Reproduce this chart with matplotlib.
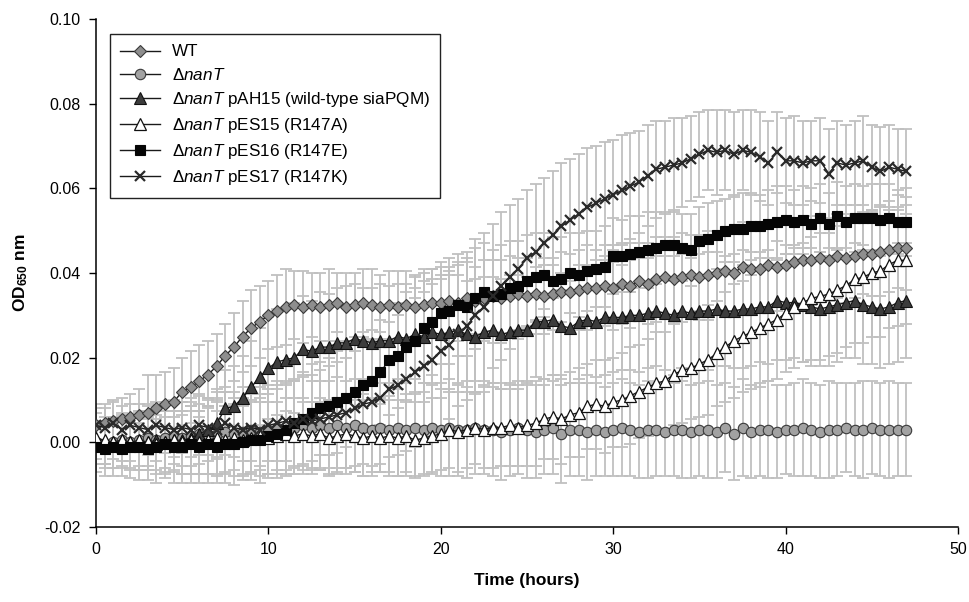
import numpy as np
import matplotlib
matplotlib.use("Agg")
import matplotlib.pyplot as plt

plt.rcParams['font.family'] = ['Liberation Sans', 'DejaVu Sans']
plt.rcParams['mathtext.fontset'] = 'custom'
plt.rcParams['mathtext.rm'] = 'Liberation Sans'
plt.rcParams['mathtext.it'] = 'Liberation Sans:italic'
plt.rcParams['mathtext.bf'] = 'Liberation Sans:bold'
plt.rcParams['axes.unicode_minus'] = False

# sampling times (hours), every 30 min
hours = np.arange(0, 47.5, 0.5)

wt = [0.0040, 0.0045, 0.0050, 0.0055, 0.0060, 0.0065, 0.0070, 0.0080, 0.0090, 0.0095,
      0.0120, 0.0130, 0.0145, 0.0160, 0.0180, 0.0205, 0.0225, 0.0250, 0.0270, 0.0285,
      0.0300, 0.0310, 0.0320, 0.0325, 0.0320, 0.0325, 0.0320, 0.0325, 0.0330, 0.0320,
      0.0325, 0.0330, 0.0325, 0.0320, 0.0325, 0.0320, 0.0325, 0.0320, 0.0325, 0.0330,
      0.0330, 0.0335, 0.0330, 0.0340, 0.0335, 0.0340, 0.0345, 0.0340, 0.0345, 0.0350,
      0.0345, 0.0350, 0.0345, 0.0350, 0.0355, 0.0355, 0.0360, 0.0365, 0.0365, 0.0370,
      0.0365, 0.0375, 0.0370, 0.0380, 0.0375, 0.0385, 0.0390, 0.0385, 0.0390, 0.0395,
      0.0390, 0.0395, 0.0400, 0.0405, 0.0400, 0.0415, 0.0410, 0.0410, 0.0420, 0.0415,
      0.0420, 0.0425, 0.0430, 0.0430, 0.0435, 0.0430, 0.0440, 0.0435, 0.0440, 0.0445,
      0.0445, 0.0450, 0.0455, 0.0460, 0.0460]
wt_err = [0.0040, 0.0045, 0.0050, 0.0050, 0.0055, 0.0060, 0.0090, 0.0080, 0.0075, 0.0080,
          0.0080, 0.0085, 0.0085, 0.0080, 0.0075, 0.0075, 0.0080, 0.0085, 0.0090, 0.0085,
          0.0080, 0.0085, 0.0090, 0.0080, 0.0085, 0.0075, 0.0080, 0.0085, 0.0070, 0.0080,
          0.0075, 0.0080, 0.0085, 0.0075, 0.0080, 0.0085, 0.0080, 0.0075, 0.0085, 0.0080,
          0.0085, 0.0080, 0.0090, 0.0085, 0.0080, 0.0090, 0.0085, 0.0090, 0.0095, 0.0085,
          0.0090, 0.0095, 0.0090, 0.0085, 0.0095, 0.0090, 0.0095, 0.0100, 0.0090, 0.0095,
          0.0100, 0.0095, 0.0100, 0.0090, 0.0095, 0.0100, 0.0095, 0.0100, 0.0105, 0.0095,
          0.0100, 0.0105, 0.0100, 0.0095, 0.0100, 0.0105, 0.0100, 0.0095, 0.0100, 0.0105,
          0.0100, 0.0095, 0.0100, 0.0105, 0.0100, 0.0095, 0.0100, 0.0105, 0.0100, 0.0095,
          0.0100, 0.0105, 0.0100, 0.0095, 0.0100]

nant = [0.0000, -0.0005, 0.0000, 0.0005, 0.0000, 0.0005, 0.0010, 0.0005, 0.0010, 0.0015,
        0.0010, 0.0015, 0.0020, 0.0015, 0.0020, 0.0025, 0.0020, 0.0025, 0.0030, 0.0025,
        0.0030, 0.0035, 0.0030, 0.0035, 0.0040, 0.0035, 0.0040, 0.0035, 0.0040, 0.0035,
        0.0040, 0.0035, 0.0030, 0.0035, 0.0030, 0.0035, 0.0030, 0.0035, 0.0030, 0.0035,
        0.0030, 0.0035, 0.0030, 0.0030, 0.0035, 0.0030, 0.0030, 0.0025, 0.0030, 0.0035,
        0.0030, 0.0025, 0.0030, 0.0035, 0.0020, 0.0030, 0.0030, 0.0025, 0.0030, 0.0025,
        0.0030, 0.0035, 0.0030, 0.0025, 0.0030, 0.0030, 0.0025, 0.0030, 0.0030, 0.0025,
        0.0030, 0.0030, 0.0025, 0.0035, 0.0020, 0.0035, 0.0025, 0.0030, 0.0030, 0.0025,
        0.0030, 0.0030, 0.0035, 0.0030, 0.0025, 0.0030, 0.0030, 0.0035, 0.0030, 0.0030,
        0.0035, 0.0030, 0.0030, 0.0030, 0.0030]
nant_err = [0.0050, 0.0055, 0.0060, 0.0060, 0.0065, 0.0070, 0.0075, 0.0070, 0.0080, 0.0085,
            0.0085, 0.0090, 0.0095, 0.0090, 0.0100, 0.0095, 0.0100, 0.0105, 0.0100, 0.0105,
            0.0105, 0.0110, 0.0105, 0.0110, 0.0115, 0.0110, 0.0105, 0.0110, 0.0115, 0.0110,
            0.0110, 0.0115, 0.0110, 0.0105, 0.0110, 0.0115, 0.0110, 0.0115, 0.0110, 0.0105,
            0.0110, 0.0115, 0.0110, 0.0115, 0.0110, 0.0105, 0.0110, 0.0115, 0.0110, 0.0110,
            0.0115, 0.0110, 0.0105, 0.0110, 0.0115, 0.0110, 0.0110, 0.0115, 0.0110, 0.0105,
            0.0110, 0.0115, 0.0110, 0.0110, 0.0115, 0.0110, 0.0105, 0.0110, 0.0115, 0.0110,
            0.0110, 0.0115, 0.0110, 0.0105, 0.0110, 0.0115, 0.0110, 0.0110, 0.0115, 0.0110,
            0.0105, 0.0110, 0.0115, 0.0110, 0.0110, 0.0115, 0.0110, 0.0105, 0.0110, 0.0115,
            0.0110, 0.0110, 0.0115, 0.0110, 0.0110]

pah15 = [0.0000, -0.0005, 0.0000, 0.0005, 0.0000, -0.0005, 0.0000, 0.0005, 0.0000, 0.0005,
         0.0005, 0.0010, 0.0020, 0.0030, 0.0045, 0.0080, 0.0085, 0.0105, 0.0130, 0.0155,
         0.0175, 0.0190, 0.0195, 0.0200, 0.0220, 0.0215, 0.0225, 0.0225, 0.0235, 0.0235,
         0.0245, 0.0240, 0.0235, 0.0240, 0.0240, 0.0250, 0.0245, 0.0255, 0.0250, 0.0260,
         0.0255, 0.0260, 0.0265, 0.0255, 0.0250, 0.0260, 0.0265, 0.0255, 0.0260, 0.0265,
         0.0265, 0.0285, 0.0285, 0.0290, 0.0275, 0.0270, 0.0285, 0.0290, 0.0285, 0.0295,
         0.0295, 0.0295, 0.0300, 0.0300, 0.0305, 0.0310, 0.0305, 0.0300, 0.0310, 0.0305,
         0.0310, 0.0310, 0.0315, 0.0310, 0.0310, 0.0315, 0.0315, 0.0320, 0.0320, 0.0335,
         0.0330, 0.0330, 0.0325, 0.0320, 0.0315, 0.0320, 0.0325, 0.0330, 0.0335, 0.0325,
         0.0320, 0.0315, 0.0320, 0.0330, 0.0335]
pah15_err = [0.0040, 0.0045, 0.0040, 0.0050, 0.0045, 0.0050, 0.0055, 0.0050, 0.0060, 0.0055,
             0.0060, 0.0065, 0.0070, 0.0075, 0.0080, 0.0090, 0.0095, 0.0100, 0.0110, 0.0115,
             0.0120, 0.0125, 0.0120, 0.0130, 0.0125, 0.0120, 0.0130, 0.0125, 0.0130, 0.0135,
             0.0130, 0.0125, 0.0130, 0.0135, 0.0130, 0.0125, 0.0130, 0.0135, 0.0130, 0.0125,
             0.0130, 0.0135, 0.0130, 0.0125, 0.0135, 0.0130, 0.0125, 0.0130, 0.0135, 0.0130,
             0.0125, 0.0130, 0.0135, 0.0130, 0.0125, 0.0130, 0.0135, 0.0130, 0.0130, 0.0135,
             0.0130, 0.0125, 0.0130, 0.0135, 0.0130, 0.0130, 0.0135, 0.0140, 0.0135, 0.0130,
             0.0135, 0.0140, 0.0135, 0.0130, 0.0135, 0.0140, 0.0135, 0.0130, 0.0135, 0.0140,
             0.0135, 0.0130, 0.0135, 0.0140, 0.0135, 0.0140, 0.0135, 0.0130, 0.0135, 0.0140,
             0.0135, 0.0140, 0.0135, 0.0140, 0.0135]

pes15 = [0.0010, 0.0005, 0.0000, 0.0005, 0.0000, 0.0005, 0.0000, -0.0005, 0.0000, 0.0005,
         0.0000, 0.0005, 0.0000, 0.0005, 0.0010, 0.0005, 0.0010, 0.0005, 0.0010, 0.0015,
         0.0010, 0.0015, 0.0020, 0.0015, 0.0020, 0.0015, 0.0020, 0.0010, 0.0015, 0.0020,
         0.0015, 0.0010, 0.0015, 0.0010, 0.0015, 0.0010, 0.0015, 0.0005, 0.0010, 0.0015,
         0.0020, 0.0030, 0.0025, 0.0030, 0.0035, 0.0030, 0.0035, 0.0035, 0.0040, 0.0035,
         0.0040, 0.0045, 0.0055, 0.0060, 0.0055, 0.0065, 0.0070, 0.0085, 0.0090, 0.0085,
         0.0095, 0.0100, 0.0110, 0.0120, 0.0130, 0.0140, 0.0145, 0.0160, 0.0170, 0.0175,
         0.0185, 0.0195, 0.0210, 0.0225, 0.0240, 0.0250, 0.0260, 0.0270, 0.0280, 0.0290,
         0.0305, 0.0320, 0.0330, 0.0340, 0.0345, 0.0350, 0.0360, 0.0370, 0.0385, 0.0390,
         0.0400, 0.0405, 0.0420, 0.0430, 0.0430]
pes15_err = [0.0060, 0.0055, 0.0060, 0.0065, 0.0060, 0.0070, 0.0065, 0.0070, 0.0075, 0.0070,
             0.0075, 0.0080, 0.0075, 0.0080, 0.0085, 0.0080, 0.0075, 0.0080, 0.0085, 0.0080,
             0.0085, 0.0080, 0.0085, 0.0090, 0.0085, 0.0080, 0.0085, 0.0090, 0.0085, 0.0080,
             0.0085, 0.0090, 0.0085, 0.0080, 0.0085, 0.0090, 0.0085, 0.0090, 0.0085, 0.0090,
             0.0085, 0.0090, 0.0095, 0.0090, 0.0085, 0.0090, 0.0095, 0.0090, 0.0095, 0.0090,
             0.0095, 0.0100, 0.0095, 0.0100, 0.0105, 0.0100, 0.0105, 0.0100, 0.0105, 0.0110,
             0.0105, 0.0110, 0.0115, 0.0110, 0.0115, 0.0120, 0.0115, 0.0120, 0.0125, 0.0120,
             0.0125, 0.0130, 0.0125, 0.0130, 0.0135, 0.0130, 0.0135, 0.0140, 0.0135, 0.0140,
             0.0140, 0.0145, 0.0140, 0.0145, 0.0150, 0.0145, 0.0150, 0.0145, 0.0150, 0.0155,
             0.0150, 0.0155, 0.0150, 0.0155, 0.0150]

pes16 = [-0.0010, -0.0015, -0.0010, -0.0015, -0.0010, -0.0010, -0.0015, -0.0010, -0.0005, -0.0010,
         -0.0010, -0.0005, -0.0010, -0.0005, -0.0010, -0.0005, -0.0005, 0.0000, 0.0005, 0.0005,
         0.0015, 0.0020, 0.0030, 0.0045, 0.0055, 0.0070, 0.0080, 0.0085, 0.0095, 0.0105,
         0.0120, 0.0135, 0.0145, 0.0165, 0.0195, 0.0205, 0.0225, 0.0240, 0.0270, 0.0285,
         0.0305, 0.0310, 0.0325, 0.0320, 0.0340, 0.0355, 0.0345, 0.0350, 0.0365, 0.0370,
         0.0380, 0.0390, 0.0395, 0.0380, 0.0385, 0.0400, 0.0395, 0.0405, 0.0410, 0.0415,
         0.0440, 0.0440, 0.0445, 0.0450, 0.0455, 0.0460, 0.0465, 0.0465, 0.0460, 0.0455,
         0.0475, 0.0480, 0.0490, 0.0500, 0.0505, 0.0505, 0.0510, 0.0510, 0.0515, 0.0520,
         0.0525, 0.0520, 0.0525, 0.0515, 0.0530, 0.0515, 0.0535, 0.0520, 0.0530, 0.0530,
         0.0530, 0.0525, 0.0530, 0.0520, 0.0520]
pes16_err = [0.0060, 0.0065, 0.0070, 0.0065, 0.0075, 0.0080, 0.0075, 0.0085, 0.0080, 0.0085,
             0.0085, 0.0090, 0.0085, 0.0090, 0.0085, 0.0090, 0.0095, 0.0090, 0.0095, 0.0100,
             0.0100, 0.0105, 0.0110, 0.0105, 0.0110, 0.0115, 0.0110, 0.0115, 0.0120, 0.0115,
             0.0120, 0.0125, 0.0120, 0.0125, 0.0130, 0.0125, 0.0130, 0.0125, 0.0130, 0.0125,
             0.0120, 0.0125, 0.0120, 0.0115, 0.0120, 0.0115, 0.0110, 0.0115, 0.0110, 0.0105,
             0.0110, 0.0105, 0.0100, 0.0105, 0.0100, 0.0095, 0.0100, 0.0095, 0.0090, 0.0095,
             0.0090, 0.0085, 0.0090, 0.0085, 0.0090, 0.0085, 0.0080, 0.0085, 0.0080, 0.0085,
             0.0080, 0.0085, 0.0080, 0.0075, 0.0080, 0.0085, 0.0080, 0.0075, 0.0080, 0.0085,
             0.0080, 0.0075, 0.0080, 0.0085, 0.0080, 0.0075, 0.0080, 0.0085, 0.0080, 0.0075,
             0.0080, 0.0085, 0.0080, 0.0075, 0.0080]

pes17 = [0.0040, 0.0035, 0.0045, 0.0030, 0.0040, 0.0035, 0.0030, 0.0040, 0.0035, 0.0030,
         0.0035, 0.0030, 0.0040, 0.0035, 0.0030, 0.0045, 0.0035, 0.0030, 0.0035, 0.0030,
         0.0040, 0.0045, 0.0050, 0.0045, 0.0055, 0.0050, 0.0055, 0.0060, 0.0065, 0.0070,
         0.0080, 0.0090, 0.0095, 0.0105, 0.0125, 0.0135, 0.0150, 0.0165, 0.0180, 0.0195,
         0.0215, 0.0230, 0.0255, 0.0275, 0.0300, 0.0320, 0.0345, 0.0370, 0.0390, 0.0410,
         0.0435, 0.0450, 0.0470, 0.0490, 0.0510, 0.0525, 0.0540, 0.0555, 0.0565, 0.0575,
         0.0585, 0.0595, 0.0605, 0.0615, 0.0630, 0.0645, 0.0650, 0.0655, 0.0660, 0.0670,
         0.0680, 0.0690, 0.0685, 0.0690, 0.0680, 0.0690, 0.0685, 0.0675, 0.0660, 0.0685,
         0.0665, 0.0665, 0.0660, 0.0665, 0.0665, 0.0635, 0.0660, 0.0655, 0.0660, 0.0665,
         0.0650, 0.0640, 0.0650, 0.0645, 0.0640]
pes17_err = [0.0050, 0.0045, 0.0050, 0.0055, 0.0050, 0.0055, 0.0060, 0.0055, 0.0060, 0.0065,
             0.0060, 0.0065, 0.0070, 0.0065, 0.0070, 0.0075, 0.0070, 0.0075, 0.0080, 0.0085,
             0.0085, 0.0090, 0.0095, 0.0100, 0.0105, 0.0110, 0.0115, 0.0120, 0.0125, 0.0130,
             0.0135, 0.0140, 0.0150, 0.0155, 0.0160, 0.0165, 0.0170, 0.0175, 0.0175, 0.0180,
             0.0180, 0.0175, 0.0170, 0.0175, 0.0180, 0.0175, 0.0170, 0.0175, 0.0170, 0.0165,
             0.0160, 0.0160, 0.0155, 0.0150, 0.0150, 0.0145, 0.0140, 0.0140, 0.0135, 0.0135,
             0.0130, 0.0130, 0.0125, 0.0120, 0.0120, 0.0115, 0.0110, 0.0110, 0.0105, 0.0100,
             0.0100, 0.0095, 0.0100, 0.0095, 0.0100, 0.0095, 0.0100, 0.0105, 0.0100, 0.0095,
             0.0100, 0.0105, 0.0100, 0.0095, 0.0100, 0.0105, 0.0100, 0.0095, 0.0100, 0.0105,
             0.0100, 0.0105, 0.0100, 0.0095, 0.0100]

labels = ['WT',
          r'$\Delta\mathit{nanT}$',
          r'$\Delta\mathit{nanT}$ pAH15 (wild-type siaPQM)',
          r'$\Delta\mathit{nanT}$ pES15 (R147A)',
          r'$\Delta\mathit{nanT}$ pES16 (R147E)',
          r'$\Delta\mathit{nanT}$ pES17 (R147K)']

series = [
    (wt, wt_err, dict(marker='D', ms=6, mfc='#8e8e8e', mec='#3a3a3a', mew=0.8)),
    (nant, nant_err, dict(marker='o', ms=7.5, mfc='#a2a2a2', mec='#3a3a3a', mew=0.8)),
    (pah15, pah15_err, dict(marker='^', ms=8, mfc='#3c3c3c', mec='#111111', mew=0.8)),
    (pes15, pes15_err, dict(marker='^', ms=8, mfc='white', mec='#111111', mew=0.9)),
    (pes16, pes16_err, dict(marker='s', ms=7, mfc='#050505', mec='#050505', mew=0.8)),
    (pes17, pes17_err, dict(marker='x', ms=7.5, mfc='#2a2a2a', mec='#2a2a2a', mew=1.6)),
]

fig = plt.figure(figsize=(9.69, 6.02), dpi=100)
ax = fig.add_axes((96 / 969, 75 / 602, 862 / 969, 508 / 602))

for vals, err, st in series:
    ax.errorbar(hours, vals, yerr=err, fmt='none', ecolor='#c0c0c0',
                elinewidth=1.3, capsize=4, capthick=1.3, zorder=1)

for (vals, err, st), lab in zip(series, labels):
    ax.plot(hours, vals, color='#1a1a1a', lw=1.0, label=lab, zorder=3, **st)

ax.set_xlim(0, 50)
ax.set_ylim(-0.02, 0.10)
ax.set_xticks([0, 10, 20, 30, 40, 50])
ax.set_yticks([-0.02, 0.00, 0.02, 0.04, 0.06, 0.08, 0.10])
ax.set_yticklabels(['%.2f' % v for v in ax.get_yticks()])
ax.tick_params(direction='out', length=5, width=1, labelsize=11.5, pad=6)
ax.spines['top'].set_visible(False)
ax.spines['right'].set_visible(False)
ax.spines['left'].set_linewidth(1.1)
ax.spines['bottom'].set_linewidth(1.1)

ax.set_xlabel('Time (hours)', fontsize=12.5, fontweight='bold', labelpad=11)
ax.set_ylabel(r'OD$_{\mathbf{650}}$ nm', fontsize=12.5, fontweight='bold', labelpad=10)

leg = ax.legend(loc='upper left', bbox_to_anchor=(0.016, 0.970), borderaxespad=0,
                fontsize=12.3, handlelength=2.35, handletextpad=0.7,
                labelspacing=0.42, borderpad=0.6,
                fancybox=False, framealpha=1, edgecolor='#222222')
leg.get_frame().set_linewidth(1.0)

fig.savefig('out.png', dpi=100)
